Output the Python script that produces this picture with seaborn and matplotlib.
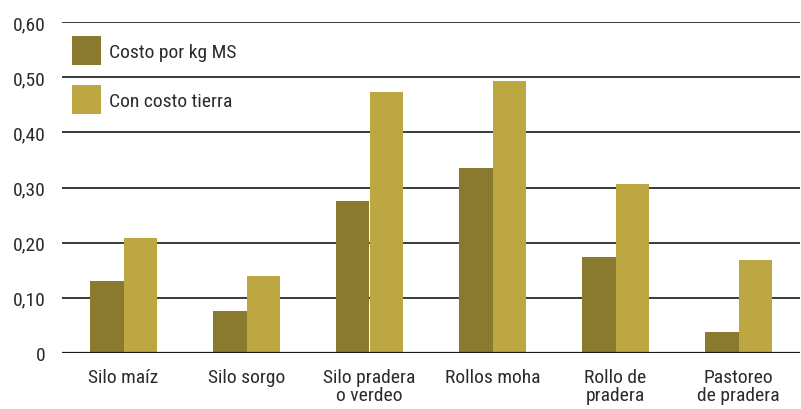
import pandas as pd
import seaborn as sns
import matplotlib.pyplot as plt
from matplotlib.ticker import FixedLocator

categories = ["Silo maíz", "Silo sorgo", "Silo pradera\no verdeo", "Rollos moha",
              "Rollo de\npradera", "Pastoreo\nde pradera"]
costo_kg_ms = [0.13, 0.076, 0.275, 0.335, 0.174, 0.038]
con_costo_tierra = [0.208, 0.139, 0.473, 0.493, 0.306, 0.168]
series_names = ["Costo por kg MS", "Con costo tierra"]
yticks = [0, 0.1, 0.2, 0.3, 0.4, 0.5, 0.6]
ylabels = ["0", "0,10", "0,20", "0,30", "0,40", "0,50", "0,60"]

df = pd.DataFrame({
    "cat": categories * 2,
    "serie": [series_names[0]] * 6 + [series_names[1]] * 6,
    "val": costo_kg_ms + con_costo_tierra,
})

sns.set_style("white")
plt.rcParams['font.family'] = ['Roboto Condensed', 'DejaVu Sans']

fig = plt.figure(figsize=(8.01, 4.10), dpi=100)
ax = fig.add_axes([62 / 801, 56 / 410, 738 / 801, 331 / 410])

sns.barplot(data=df, x="cat", y="val", hue="serie", palette=["#8a7a30", "#bca743"],
            width=0.54, saturation=1, linewidth=0, edgecolor="none", ax=ax, zorder=3)

ax.set_ylim(0, 0.6)
ax.set_xlim(-0.5, 5.5)
ax.yaxis.set_major_locator(FixedLocator(yticks))
ax.set_yticklabels(ylabels)
for y in yticks[1:]:
    ax.axhline(y, color="#3a3a3a", lw=1.4, zorder=1)
ax.axhline(0, color="#1a1a1a", lw=1.6, zorder=4)

for s in ax.spines.values():
    s.set_visible(False)
ax.tick_params(axis="both", length=0, labelsize=14, colors="#2b2b2b")
ax.tick_params(axis="y", pad=12)
ax.tick_params(axis="x", pad=11)
ax.set_xlabel("")
ax.set_ylabel("")
for t in ax.get_xticklabels():
    t.set_linespacing(0.95)

leg = ax.legend(loc="upper left", bbox_to_anchor=(-0.01, 1.011), frameon=False,
                fontsize=14, handlelength=1.5, handleheight=1.92, labelspacing=1.03,
                handletextpad=0.4, labelcolor="#2b2b2b")

fig.savefig("out.png", dpi=100)
